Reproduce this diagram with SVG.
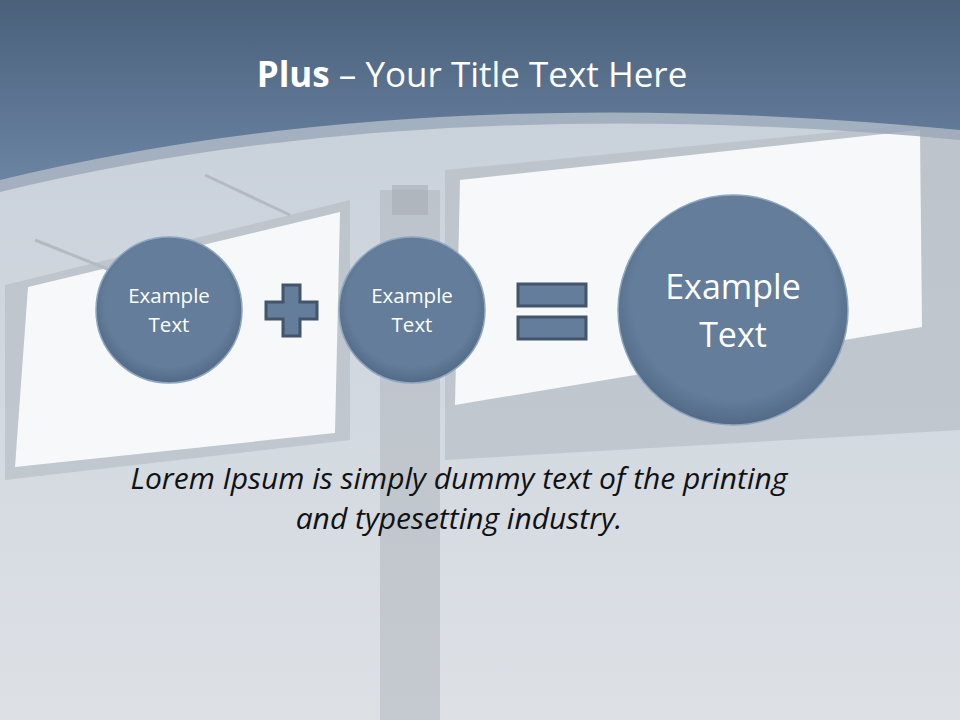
<svg xmlns="http://www.w3.org/2000/svg" width="960" height="720" viewBox="0 0 960 720">
<defs>
<linearGradient id="bg" x1="0" y1="0" x2="0" y2="1"><stop offset="0" stop-color="#c5ced8"/><stop offset="1" stop-color="#dde1e6"/></linearGradient>
<linearGradient id="hd" x1="0" y1="0" x2="0" y2="1"><stop offset="0" stop-color="#4a607b"/><stop offset="1" stop-color="#6a84a2"/></linearGradient>
<radialGradient id="ball" cx="0.5" cy="0.45" r="0.55"><stop offset="0.8" stop-color="#637d9a"/><stop offset="1" stop-color="#526a86"/></radialGradient>
<style>
.node{fill:url(#ball);stroke:#8ea6c0;stroke-width:1.5}
.sym{fill:#637d9a;stroke:#43556b;stroke-width:3}
.lbl{font-family:"Open Sans","DejaVu Sans",sans-serif;fill:#fff;text-anchor:middle}
.frame{fill:#b4bac2;opacity:0.6}
.board{fill:#f6f8fa}
</style>
</defs>
<rect width="960" height="720" fill="url(#bg)"/>
<g id="scene">
<rect x="380" y="190" width="60" height="530" fill="#b0b6be" opacity="0.55"/>
<rect x="392" y="185" width="36" height="30" fill="#a8aeb6" opacity="0.6"/>
<polygon class="frame" points="5,285 350,200 350,440 5,480"/>
<polygon class="board" points="28,287 340,212 335,433 15,467"/>
<polygon class="frame" points="445,170 960,120 960,430 445,460"/>
<polygon class="board" points="460,180 920,130 922,327 455,405"/>
<line x1="35" y1="240" x2="110" y2="270" stroke="#b4bac2" stroke-width="3"/>
<line x1="205" y1="175" x2="290" y2="215" stroke="#b4bac2" stroke-width="3"/>
</g>
<path d="M0,192 Q420,90 960,140 L960,0 L0,0 Z" fill="#9aa8b8" opacity="0.8"/>
<path d="M0,180 Q420,78 960,130 L960,0 L0,0 Z" fill="url(#hd)"/>
<text x="472" y="87" font-family="'Open Sans','DejaVu Sans',sans-serif" font-size="35" fill="#fff" text-anchor="middle"><tspan font-weight="bold">Plus</tspan> – Your Title Text Here</text>
<g id="connectors">
<path class="sym" d="M283,285 h17 v17 h17 v17 h-17 v17 h-17 v-17 h-17 v-17 h17 Z"/>
<rect class="sym" x="518" y="284" width="68" height="22"/>
<rect class="sym" x="518" y="317" width="68" height="22"/>
</g>
<g id="node1"><circle class="node" cx="169" cy="310" r="73"/><text class="lbl" font-size="20.5" x="169" y="303">Example</text><text class="lbl" font-size="20.5" x="169" y="332">Text</text></g>
<g id="node2"><circle class="node" cx="412" cy="310" r="73"/><text class="lbl" font-size="20.5" x="412" y="303">Example</text><text class="lbl" font-size="20.5" x="412" y="332">Text</text></g>
<g id="node3"><circle class="node" cx="733" cy="310" r="115"/><text class="lbl" font-size="34" x="733" y="299">Example</text><text class="lbl" font-size="34" x="733" y="347">Text</text></g>
<text font-family="'Open Sans','DejaVu Sans',sans-serif" font-style="italic" font-size="30" fill="#111" text-anchor="middle"><tspan x="459" y="489">Lorem Ipsum is simply dummy text of the printing</tspan><tspan x="459" y="529">and typesetting industry.</tspan></text>
</svg>
